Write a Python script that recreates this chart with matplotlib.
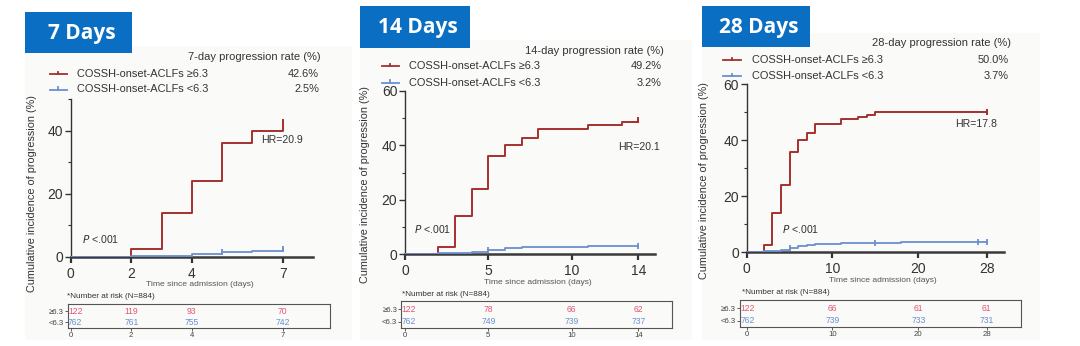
import numpy as np
import matplotlib
matplotlib.use("Agg")
import matplotlib.pyplot as plt
from matplotlib.patches import Rectangle
from matplotlib.lines import Line2D

plt.rcParams['font.family'] = ['Liberation Sans', 'DejaVu Sans']

W, H = 1080, 346
RED = '#a5302e'
BLUE = '#6b8fcf'
RED_TXT = '#e0587a'
BLUE_TXT = '#6b8fcf'
BOX_BLUE = '#0a6fc2'

# ---- data -------------------------------------------------------------
panel_titles = ['7 Days', '14 Days', '28 Days']
rate_titles = ['7-day progression rate (%)', '14-day progression rate (%)',
               '28-day progression rate (%)']
group_labels = ['COSSH-onset-ACLFs \u22656.3', 'COSSH-onset-ACLFs <6.3']
high_rates = ['42.6%', '49.2%', '50.0%']
low_rates = ['2.5%', '3.2%', '3.7%']
hr_labels = ['HR=20.9', 'HR=20.1', 'HR=17.8']

# cumulative incidence (%), step functions
t7_high = [0, 2, 3, 4, 5, 6, 7]
y7_high = [0, 2.5, 14.0, 24.0, 36.0, 40.0, 42.6]
t7_low = [0, 2, 3, 4, 5, 6, 7]
y7_low = [0, 0.2, 0.4, 1.0, 1.6, 2.0, 2.5]
c7_low = [5, 7]

t14_high = [0, 2, 3, 4, 5, 6, 7, 8, 11, 13, 14]
y14_high = [0, 2.5, 14.0, 24.0, 36.0, 40.0, 42.6, 45.9, 47.5, 48.4, 49.2]
t14_low = [0, 2, 4, 5, 6, 7, 8, 11, 14]
y14_low = [0, 0.3, 1.0, 1.6, 2.2, 2.5, 2.8, 3.0, 3.2]
c14_low = [5, 14]

t28_high = [0, 2, 3, 4, 5, 6, 7, 8, 11, 13, 14, 15, 28]
y28_high = [0, 2.5, 14.0, 24.0, 36.0, 40.0, 42.6, 45.9, 47.5, 48.4, 49.2, 50.0, 50.0]
t28_low = [0, 2, 4, 5, 6, 7, 8, 9, 11, 15, 18, 28]
y28_low = [0, 0.3, 1.0, 1.6, 2.2, 2.5, 2.8, 3.0, 3.2, 3.4, 3.6, 3.7]
c28_low = [5, 15, 27, 28]

# number at risk
risk_t7 = [0, 2, 4, 7]
risk7_high = [122, 119, 93, 70]
risk7_low = [762, 761, 755, 742]
risk_t14 = [0, 5, 10, 14]
risk14_high = [122, 78, 66, 62]
risk14_low = [762, 749, 739, 737]
risk_t28 = [0, 10, 20, 28]
risk28_high = [122, 66, 61, 61]
risk28_low = [762, 739, 733, 731]

panels = [
    dict(th=t7_high, yh=y7_high, tl=t7_low, yl=y7_low, cl=c7_low,
         rt=risk_t7, rh=risk7_high, rl=risk7_low, xticks=[0, 2, 4, 7],
         xmax=8, ymax=50, yticks=[0, 20, 40], yminor=[10, 30, 50],
         ax=(70.7, 99, 313, 257), tab=(67.7, 304, 330, 327.7),
         box=(25, 12, 132, 53), bg=(25, 46, 352, 340),
         leg=dict(title_y=57, r1=74, r2=89.5, s0=49.5, s1=66.7, tx=77.3, rx=319),
         ylab=(32, 194), xlab=(200, 285), nar=(66.7, 296),
         hr=(261, 140), p=(82, 238.7)),
    dict(th=t14_high, yh=y14_high, tl=t14_low, yl=y14_low, cl=c14_low,
         rt=risk_t14, rh=risk14_high, rl=risk14_low, xticks=[0, 5, 10, 14],
         xmax=15, ymax=60, yticks=[0, 20, 40, 60], yminor=[10, 30, 50],
         ax=(405, 90.7, 655, 254.3), tab=(401.3, 301.3, 671.7, 327.5),
         box=(360, 6, 470, 47.7), bg=(360, 40, 692, 340),
         leg=dict(title_y=50.7, r1=66, r2=82.7, s0=381.7, s1=399, tx=409, rx=661.7),
         ylab=(365, 185), xlab=(537.7, 282.7), nar=(401.7, 295),
         hr=(617.7, 146.7), p=(414, 228.7)),
    dict(th=t28_high, yh=y28_high, tl=t28_low, yl=y28_low, cl=c28_low,
         rt=risk_t28, rh=risk28_high, rl=risk28_low, xticks=[0, 10, 20, 28],
         xmax=30, ymax=60, yticks=[0, 20, 40, 60], yminor=[10, 30, 50],
         ax=(746.7, 84.3, 1004, 252.3), tab=(740, 300, 1021, 326.7),
         box=(701.7, 6, 810, 46.7), bg=(701.7, 33, 1040, 340),
         leg=dict(title_y=42.7, r1=60, r2=76, s0=722.7, s1=740.7, tx=751.7, rx=1009),
         ylab=(704, 181), xlab=(883, 280.7), nar=(741.7, 292.7),
         hr=(955, 124.3), p=(782, 229.3)),
]

fig = plt.figure(figsize=(W / 100, H / 100), dpi=100)
fig.patch.set_facecolor('white')

# background layer in pixel coordinates
bg = fig.add_axes([0, 0, 1, 1], zorder=-5)
bg.set_xlim(0, W)
bg.set_ylim(H, 0)
bg.axis('off')

# annotation layer in pixel coordinates
ov = fig.add_axes([0, 0, 1, 1], zorder=10)
ov.set_xlim(0, W)
ov.set_ylim(H, 0)
ov.axis('off')
ov.patch.set_alpha(0)


def px_axes(x0, yt, x1, yb):
    return fig.add_axes([x0 / W, 1 - yb / H, (x1 - x0) / W, (yb - yt) / H])


def value_at(t, ts, ys):
    i = np.searchsorted(ts, t, side='right') - 1
    return ys[max(i, 0)]


for k, p in enumerate(panels):
    # panel background and title box
    bx0, by0, bx1, by1 = p['bg']
    bg.add_patch(Rectangle((bx0, by0), bx1 - bx0, by1 - by0,
                           facecolor='#fafaf8', edgecolor='none'))
    x0, y0, x1, y1 = p['box']
    ov.add_patch(Rectangle((x0, y0), x1 - x0, y1 - y0, facecolor=BOX_BLUE,
                           edgecolor='none'))
    ov.text((x0 + x1) / 2 + 3, (y0 + y1) / 2 + 1, panel_titles[k], color='white',
            fontsize=15, fontweight='bold', family=['Open Sans', 'DejaVu Sans'],
            ha='center', va='center')

    # main curve axes
    a = p['ax']
    ax = px_axes(*a)
    ax.set_facecolor('none')
    ax.step(p['th'], p['yh'], where='post', color=RED, lw=1.4, zorder=3)
    ax.step(p['tl'], p['yl'], where='post', color=BLUE, lw=1.3, zorder=3)
    ax.plot([p['th'][-1]], [p['yh'][-1]], marker='|', ms=5, mew=1.4,
            color=RED, zorder=4)
    cy = [value_at(t, p['tl'], p['yl']) for t in p['cl']]
    ax.plot(p['cl'], cy, ls='none', marker='|', ms=5, mew=1.3, color=BLUE,
            zorder=4)
    ax.set_xlim(0, p['xmax'])
    ax.set_ylim(0, p['ymax'])
    ax.set_xticks(p['xticks'])
    ax.set_yticks(p['yticks'])
    ax.set_yticks(p['yminor'], minor=True)
    for s in ('top', 'right'):
        ax.spines[s].set_visible(False)
    ax.spines['bottom'].set_linewidth(1.8)
    ax.spines['bottom'].set_color('#3a3a3a')
    ax.spines['left'].set_linewidth(1.0)
    ax.spines['left'].set_color('#333333')
    ax.tick_params(axis='both', which='major', length=4, width=1.0,
                   labelsize=10, colors='#333333', pad=1.5)
    ax.tick_params(axis='x', which='major', width=1.6, pad=3)
    ax.tick_params(axis='y', which='minor', length=2.5, width=0.8,
                   colors='#333333')

    # axis titles
    ov.text(*p['ylab'], 'Cumulative incidence of progression (%)', rotation=90,
            fontsize=7.8, color='#333333', ha='center', va='center')
    ov.text(*p['xlab'], 'Time since admission (days)', fontsize=6.1,
            color='#555555', ha='center', va='center')
    ov.text(*p['hr'], hr_labels[k], fontsize=7.6, color='#333333',
            ha='left', va='center')
    ov.text(*p['p'], r'$\it{P}$ <.001', fontsize=7.6, color='#333333',
            ha='left', va='center')

    # legend
    lg = p['leg']
    ov.text(lg['rx'] + 2, lg['title_y'], rate_titles[k], fontsize=8,
            color='#333333', ha='right', va='center')
    for ry, col, lab, rate in ((lg['r1'], RED, group_labels[0], high_rates[k]),
                               (lg['r2'], BLUE, group_labels[1], low_rates[k])):
        ov.add_line(Line2D([lg['s0'], lg['s1']], [ry, ry], color=col, lw=1.3))
        ov.add_line(Line2D([(lg['s0'] + lg['s1']) / 2] * 2, [ry - 2.5, ry],
                           color=col, lw=1.3))
        ov.text(lg['tx'], ry, lab, fontsize=7.9, color='#333333', ha='left',
                va='center')
        ov.text(lg['rx'], ry, rate, fontsize=7.9, color='#333333', ha='right',
                va='center')

    # number-at-risk table, sharing the day scale of the curve axes
    sc = (a[2] - a[0]) / p['xmax']
    tb = p['tab']
    tx = px_axes(*tb)
    tx.set_facecolor('none')
    lo, hi = (tb[0] - a[0]) / sc, (tb[2] - a[0]) / sc
    tx.set_xlim(lo, hi)
    tx.set_ylim(1, 0)
    for s in tx.spines.values():
        s.set_linewidth(0.8)
        s.set_color('#555555')
    rows = (0.3, 0.78)
    tx.set_yticks(rows)
    tx.set_yticklabels(['\u22656.3', '<6.3'])
    tx.set_xticks(p['rt'])
    tx.set_xticklabels([str(t) for t in p['rt']])
    tx.tick_params(axis='both', length=2, width=0.6, labelsize=5.6,
                   colors='#444444', pad=1)
    for j, t in enumerate(p['rt']):
        xpos, ha = (lo + 0.2 / sc, 'left') if j == 0 else (t, 'center')
        tx.text(xpos, rows[0], str(p['rh'][j]), color=RED_TXT, fontsize=6.2,
                ha=ha, va='center')
        tx.text(xpos, rows[1], str(p['rl'][j]), color=BLUE_TXT, fontsize=6.2,
                ha=ha, va='center')
    ov.text(*p['nar'], '*Number at risk (N=884)', fontsize=5.9,
            color='#333333', ha='left', va='center')

fig.savefig('out.png', dpi=100, facecolor='white')
